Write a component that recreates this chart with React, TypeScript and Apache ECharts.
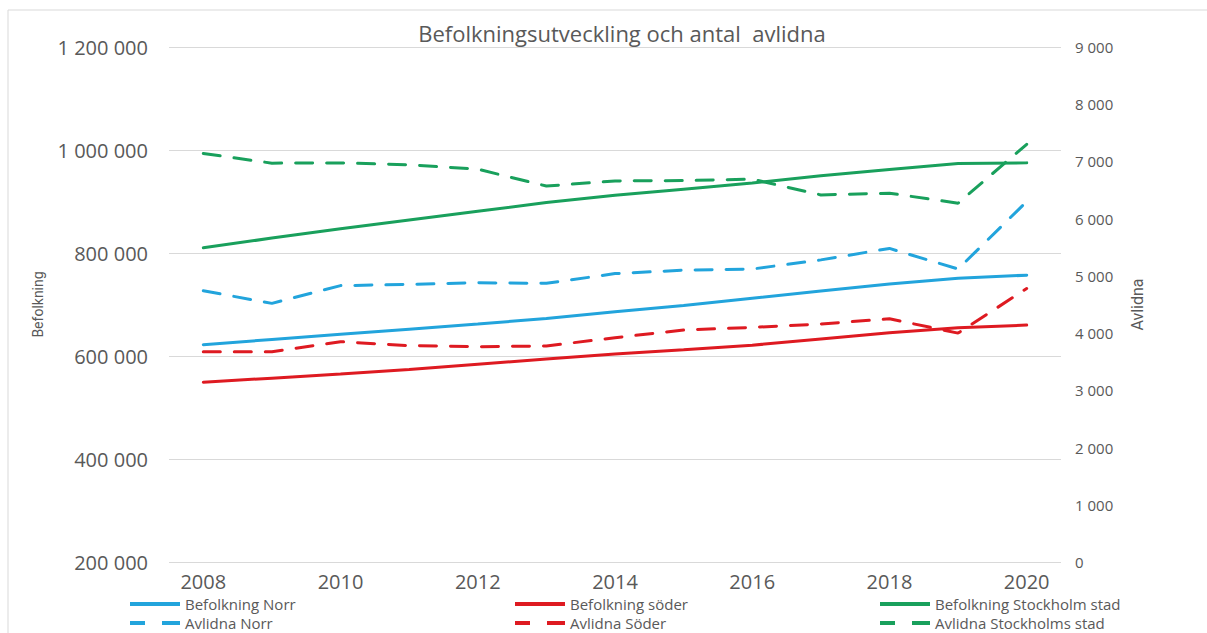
import React, { useEffect, useRef } from "react";
import * as echarts from "echarts";

const years = ["2008", "2009", "2010", "2011", "2012", "2013", "2014", "2015", "2016", "2017", "2018", "2019", "2020"];

const befolkningNorr = [622000, 632000, 642000, 652000, 662000, 673000, 686000, 698000, 712000, 726000, 740000, 751000, 757000];
const befolkningSoder = [549000, 557000, 565000, 574000, 584000, 594000, 604000, 612000, 621000, 633000, 645000, 655000, 660000];
const befolkningSthlm = [810000, 829000, 847000, 864000, 881000, 898000, 912000, 924000, 936000, 950000, 962000, 974000, 975000];

const avlidnaNorr = [4740, 4520, 4830, 4850, 4880, 4870, 5040, 5100, 5120, 5280, 5480, 5120, 6300];
const avlidnaSoder = [3676, 3676, 3850, 3780, 3763, 3775, 3920, 4054, 4100, 4160, 4250, 4000, 4780];
const avlidnaSthlm = [7140, 6970, 6975, 6940, 6865, 6570, 6660, 6665, 6690, 6415, 6445, 6270, 7300];

const BLUE = "#22a4dc";
const RED = "#de1a21";
const GREEN = "#19a05c";
const TXT = "#595959";
const FONT = "'Open Sans', sans-serif";
const DASH = [17, 14];

const SOLID_ICON = "path://M0,0H50V4H0Z";
const DASH_ICON = "path://M0,0H15V4H0Z M32,0H50V4H32Z";

const fmt = (v: number) => String(v).replace(/\B(?=(\d{3})+(?!\d))/g, " ");

export default function App() {
  const ref = useRef<HTMLDivElement>(null);
  useEffect(() => {
    if (!ref.current) return;
    const chart = echarts.init(ref.current, null, { renderer: "svg" });
    const mkLine = (name: string, data: number[], color: string, axis: number, dashed: boolean) => ({
      name,
      type: "line",
      yAxisIndex: axis,
      data,
      symbol: "none",
      showSymbol: false,
      lineStyle: { color, width: 3, type: dashed ? DASH : "solid", cap: "round" },
      itemStyle: { color },
    });
    const legendTxt = { color: TXT, fontSize: 15, lineHeight: 18, fontFamily: FONT };
    const mkLegend = (name: string, left: number, top: number, dashed: boolean) => ({
      data: [{ name, icon: dashed ? DASH_ICON : SOLID_ICON }],
      left,
      top,
      itemWidth: 50,
      itemHeight: 4,
      itemGap: 3,
      textStyle: legendTxt,
      padding: 0,
      selectedMode: false,
    });
    chart.setOption({
      animation: false,
      backgroundColor: "#ffffff",
      title: {
        text: "Befolkningsutveckling och antal  avlidna",
        left: 617,
        textAlign: "center",
        top: 17,
        textStyle: { color: TXT, fontSize: 22, fontWeight: "normal", fontFamily: FONT },
      },
      graphic: [
        {
          type: "rect",
          shape: { x: 8, y: 10, width: 1300, height: 700 },
          style: { fill: "none", stroke: "#d9d9d9", lineWidth: 1 },
          silent: true,
          z: -1,
        },
      ],
      legend: [
        mkLegend("Befolkning Norr", 130, 595, false),
        mkLegend("Befolkning söder", 515, 595, false),
        mkLegend("Befolkning Stockholm stad", 880, 595, false),
        mkLegend("Avlidna Norr", 130, 614, true),
        mkLegend("Avlidna Söder", 515, 614, true),
        mkLegend("Avlidna Stockholms stad", 880, 614, true),
      ],
      grid: { left: 169, right: 146, top: 47, bottom: 71, containLabel: false },
      xAxis: {
        type: "category",
        data: years,
        boundaryGap: true,
        axisLine: { show: false },
        axisTick: { show: false },
        axisLabel: { interval: 1, color: TXT, fontSize: 20, fontFamily: FONT, margin: 9 },
      },
      yAxis: [
        {
          type: "value",
          min: 200000,
          max: 1200000,
          interval: 200000,
          name: "Befolkning",
          nameLocation: "middle",
          nameGap: 124,
          nameRotate: 90,
          nameTextStyle: { color: TXT, fontSize: 14, fontFamily: "'Liberation Sans Narrow', 'Roboto', sans-serif" },
          axisLine: { show: false },
          axisTick: { show: false },
          splitLine: { lineStyle: { color: "#d9d9d9", width: 1 } },
          axisLabel: { color: TXT, fontSize: 20, fontFamily: FONT, margin: 21, formatter: fmt },
        },
        {
          type: "value",
          min: 0,
          max: 9000,
          interval: 1000,
          name: "Avlidna",
          nameLocation: "middle",
          nameGap: 68,
          nameRotate: 90,
          nameTextStyle: { color: TXT, fontSize: 16, fontFamily: "'Liberation Sans Narrow', 'Roboto', sans-serif" },
          axisLine: { show: false },
          axisTick: { show: false },
          splitLine: { show: false },
          axisLabel: { color: TXT, fontSize: 15, fontFamily: FONT, margin: 14, formatter: fmt },
        },
      ],
      series: [
        mkLine("Befolkning Norr", befolkningNorr, BLUE, 0, false),
        mkLine("Befolkning söder", befolkningSoder, RED, 0, false),
        mkLine("Befolkning Stockholm stad", befolkningSthlm, GREEN, 0, false),
        mkLine("Avlidna Norr", avlidnaNorr, BLUE, 1, true),
        mkLine("Avlidna Söder", avlidnaSoder, RED, 1, true),
        mkLine("Avlidna Stockholms stad", avlidnaSthlm, GREEN, 1, true),
      ],
    });
    return () => chart.dispose();
  }, []);
  return (
    <div
      ref={ref}
      style={{ position: "absolute", left: 0, top: 0, width: 1207, height: 633, background: "#fff" }}
    />
  );
}
